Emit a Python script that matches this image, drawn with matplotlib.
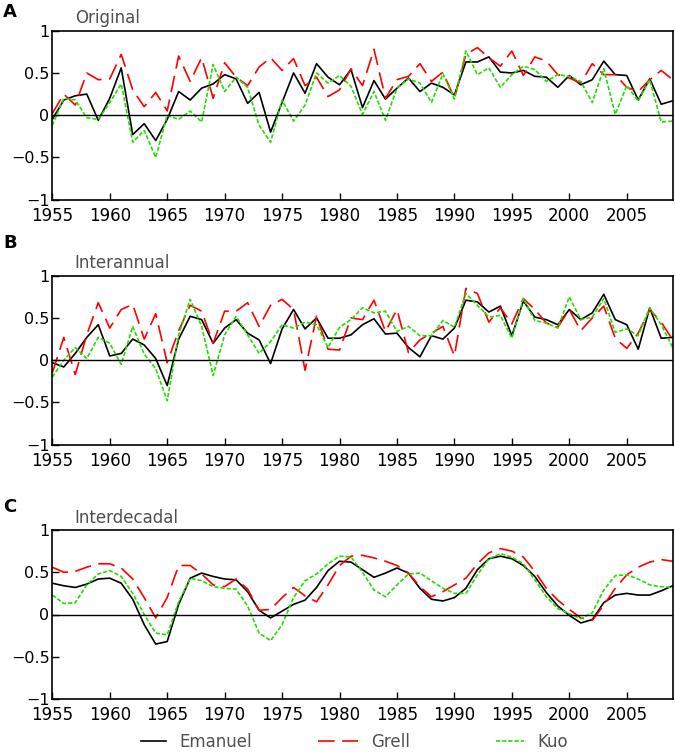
import numpy as np
import matplotlib
matplotlib.use("Agg")
import matplotlib.pyplot as plt
from matplotlib.lines import Line2D

### Data. ###
years = list(range(1955, 2010))

orig_emanuel = [-0.05, 0.18, 0.23, 0.25, -0.06, 0.20, 0.56, -0.23, -0.10, -0.30,
                -0.05, 0.28, 0.18, 0.32, 0.37, 0.48, 0.43, 0.14, 0.27, -0.20,
                0.15, 0.50, 0.26, 0.61, 0.45, 0.36, 0.54, 0.09, 0.41, 0.19,
                0.32, 0.44, 0.28, 0.38, 0.33, 0.24, 0.63, 0.63, 0.69, 0.51,
                0.50, 0.53, 0.46, 0.45, 0.33, 0.47, 0.36, 0.42, 0.64, 0.48,
                0.47, 0.18, 0.43, 0.13, 0.17]
orig_grell = [0.02, 0.25, 0.12, 0.50, 0.42, 0.43, 0.72, 0.30, 0.10, 0.27,
              0.05, 0.70, 0.40, 0.68, 0.20, 0.62, 0.45, 0.35, 0.57, 0.68,
              0.53, 0.67, 0.35, 0.45, 0.22, 0.30, 0.55, 0.35, 0.78, 0.20,
              0.42, 0.46, 0.61, 0.40, 0.51, 0.20, 0.72, 0.80, 0.68, 0.58,
              0.76, 0.47, 0.69, 0.64, 0.48, 0.44, 0.38, 0.61, 0.48, 0.48,
              0.33, 0.28, 0.42, 0.53, 0.42]
orig_kuo = [-0.12, 0.20, 0.18, -0.03, -0.05, 0.15, 0.37, -0.32, -0.18, -0.50,
            0.00, -0.05, 0.05, -0.08, 0.60, 0.28, 0.45, 0.33, -0.12, -0.32,
            0.18, -0.07, 0.12, 0.50, 0.38, 0.47, 0.34, 0.01, 0.28, -0.06,
            0.32, 0.43, 0.38, 0.15, 0.49, 0.19, 0.76, 0.48, 0.56, 0.33,
            0.48, 0.58, 0.54, 0.40, 0.48, 0.46, 0.40, 0.15, 0.55, 0.01,
            0.35, 0.17, 0.42, -0.08, -0.07]

inter_emanuel = [-0.03, -0.08, 0.08, 0.27, 0.42, 0.05, 0.08, 0.25, 0.18, 0.02,
                 -0.30, 0.25, 0.52, 0.48, 0.20, 0.38, 0.48, 0.32, 0.24, -0.04,
                 0.37, 0.60, 0.37, 0.50, 0.26, 0.26, 0.30, 0.42, 0.49, 0.31,
                 0.32, 0.15, 0.04, 0.29, 0.25, 0.38, 0.71, 0.69, 0.57, 0.64,
                 0.29, 0.70, 0.51, 0.48, 0.42, 0.60, 0.48, 0.56, 0.78, 0.48,
                 0.42, 0.13, 0.62, 0.26, 0.27]
inter_grell = [-0.15, 0.27, -0.17, 0.30, 0.68, 0.38, 0.60, 0.66, 0.25, 0.55,
               -0.03, 0.35, 0.65, 0.58, 0.20, 0.58, 0.58, 0.68, 0.40, 0.65,
               0.72, 0.60, -0.12, 0.52, 0.13, 0.12, 0.50, 0.48, 0.71, 0.34,
               0.60, 0.09, 0.24, 0.32, 0.40, 0.05, 0.85, 0.79, 0.45, 0.62,
               0.43, 0.73, 0.60, 0.44, 0.39, 0.60, 0.35, 0.50, 0.64, 0.26,
               0.14, 0.32, 0.60, 0.45, 0.24]
inter_kuo = [-0.20, 0.00, 0.15, 0.02, 0.27, 0.20, -0.05, 0.40, 0.07, -0.10,
             -0.48, 0.30, 0.72, 0.40, -0.18, 0.30, 0.52, 0.30, 0.08, 0.22,
             0.42, 0.38, 0.45, 0.42, 0.15, 0.39, 0.48, 0.62, 0.56, 0.58,
             0.34, 0.40, 0.29, 0.29, 0.47, 0.39, 0.79, 0.65, 0.51, 0.53,
             0.26, 0.73, 0.47, 0.44, 0.38, 0.75, 0.48, 0.51, 0.73, 0.33,
             0.37, 0.29, 0.62, 0.42, 0.15]

dec_emanuel = [0.37, 0.34, 0.32, 0.36, 0.42, 0.43, 0.37, 0.18, -0.12, -0.35,
               -0.32, 0.12, 0.43, 0.49, 0.45, 0.42, 0.41, 0.27, 0.05, -0.04,
               0.04, 0.12, 0.17, 0.32, 0.52, 0.63, 0.62, 0.53, 0.44, 0.49,
               0.55, 0.49, 0.31, 0.18, 0.16, 0.20, 0.31, 0.53, 0.66, 0.69,
               0.66, 0.58, 0.45, 0.26, 0.10, -0.01, -0.10, -0.06, 0.14, 0.23,
               0.25, 0.23, 0.23, 0.28, 0.34]
dec_grell = [0.56, 0.50, 0.51, 0.56, 0.60, 0.60, 0.55, 0.42, 0.20, -0.04,
             0.20, 0.58, 0.58, 0.48, 0.35, 0.33, 0.42, 0.30, 0.05, 0.06,
             0.20, 0.32, 0.22, 0.15, 0.35, 0.58, 0.69, 0.70, 0.67, 0.63,
             0.58, 0.49, 0.33, 0.21, 0.27, 0.35, 0.43, 0.60, 0.73, 0.78,
             0.75, 0.68, 0.51, 0.31, 0.17, 0.06, -0.04, -0.07, 0.11, 0.31,
             0.47, 0.56, 0.62, 0.65, 0.63]
dec_kuo = [0.23, 0.13, 0.14, 0.35, 0.48, 0.52, 0.45, 0.25, 0.00, -0.22,
           -0.24, 0.15, 0.43, 0.40, 0.33, 0.31, 0.30, 0.10, -0.22, -0.31,
           -0.12, 0.20, 0.40, 0.48, 0.60, 0.69, 0.68, 0.50, 0.29, 0.21,
           0.35, 0.48, 0.49, 0.40, 0.31, 0.25, 0.25, 0.47, 0.66, 0.72,
           0.68, 0.60, 0.41, 0.21, 0.07, 0.01, -0.05, 0.02, 0.29, 0.46,
           0.47, 0.42, 0.35, 0.33, 0.32]

panel_labels = ["A", "B", "C"]
panel_titles = ["Original", "Interannual", "Interdecadal"]
panel_data = [
    (orig_emanuel, orig_grell, orig_kuo),
    (inter_emanuel, inter_grell, inter_kuo),
    (dec_emanuel, dec_grell, dec_kuo),
]
series_names = ["Emanuel", "Grell", "Kuo"]

### Styles. ###
styles = [
    dict(color="black", lw=1.2, ls="-"),
    dict(color="#ff0000", lw=1.2, ls=(0, (10, 4.5))),
    dict(color="#22dd00", lw=1.2, ls=(0, (2.5, 1.2))),
]

W, H = 675.0, 752.0
fig = plt.figure(figsize=(W / 100, H / 100), dpi=100)

# axes boxes in pixels: top / height
ax_tops = [30.7, 275.7, 530.0]
ax_h = 169.0
label_y = [12, 243, 507]
left_px, right_px = 52.3, 672.7

for i in range(3):
    bottom = 1 - (ax_tops[i] + ax_h) / H
    ax = fig.add_axes([left_px / W, bottom, (right_px - left_px) / W, ax_h / H])
    for vals, st in zip(panel_data[i], styles):
        ax.plot(years, vals, **st)
    ax.axhline(0, color="black", lw=1.0)
    ax.set_xlim(1955, 2009)
    ax.set_ylim(-1, 1)
    ax.set_xticks(range(1955, 2010, 5))
    ax.set_yticks([-1, -0.5, 0, 0.5, 1])
    ax.set_yticklabels(["\u22121", "\u22120.5", "0", "0.5", "1"])
    ax.tick_params(direction="in", length=5, width=1.0, labelsize=12)
    ax.tick_params(axis="x", pad=5)
    ax.tick_params(axis="y", pad=2, labelsize=11.5)
    for sp in ax.spines.values():
        sp.set_linewidth(1.2)
    ax.text(0.036, 1.02, panel_titles[i], transform=ax.transAxes, fontsize=12,
            color="#505050", ha="left", va="bottom")
    fig.text(3 / W, 1 - label_y[i] / H, panel_labels[i], fontsize=13,
             fontweight="bold", ha="left", va="center")

### Legend at the bottom, one entry per series. ###
leg_x = [140, 317, 495]
handle_len = [1.5, 2.4, 1.7]
for name, st, x, hl in zip(series_names, styles, leg_x, handle_len):
    h = Line2D([0], [0], **st)
    fig.legend([h], [name], loc="lower left", bbox_to_anchor=(x / W, 0.0),
               frameon=False, fontsize=12, handlelength=hl,
               handletextpad=0.8, borderpad=0.05, borderaxespad=0.0,
               labelcolor="#505050")

fig.savefig("out.png", dpi=100)
